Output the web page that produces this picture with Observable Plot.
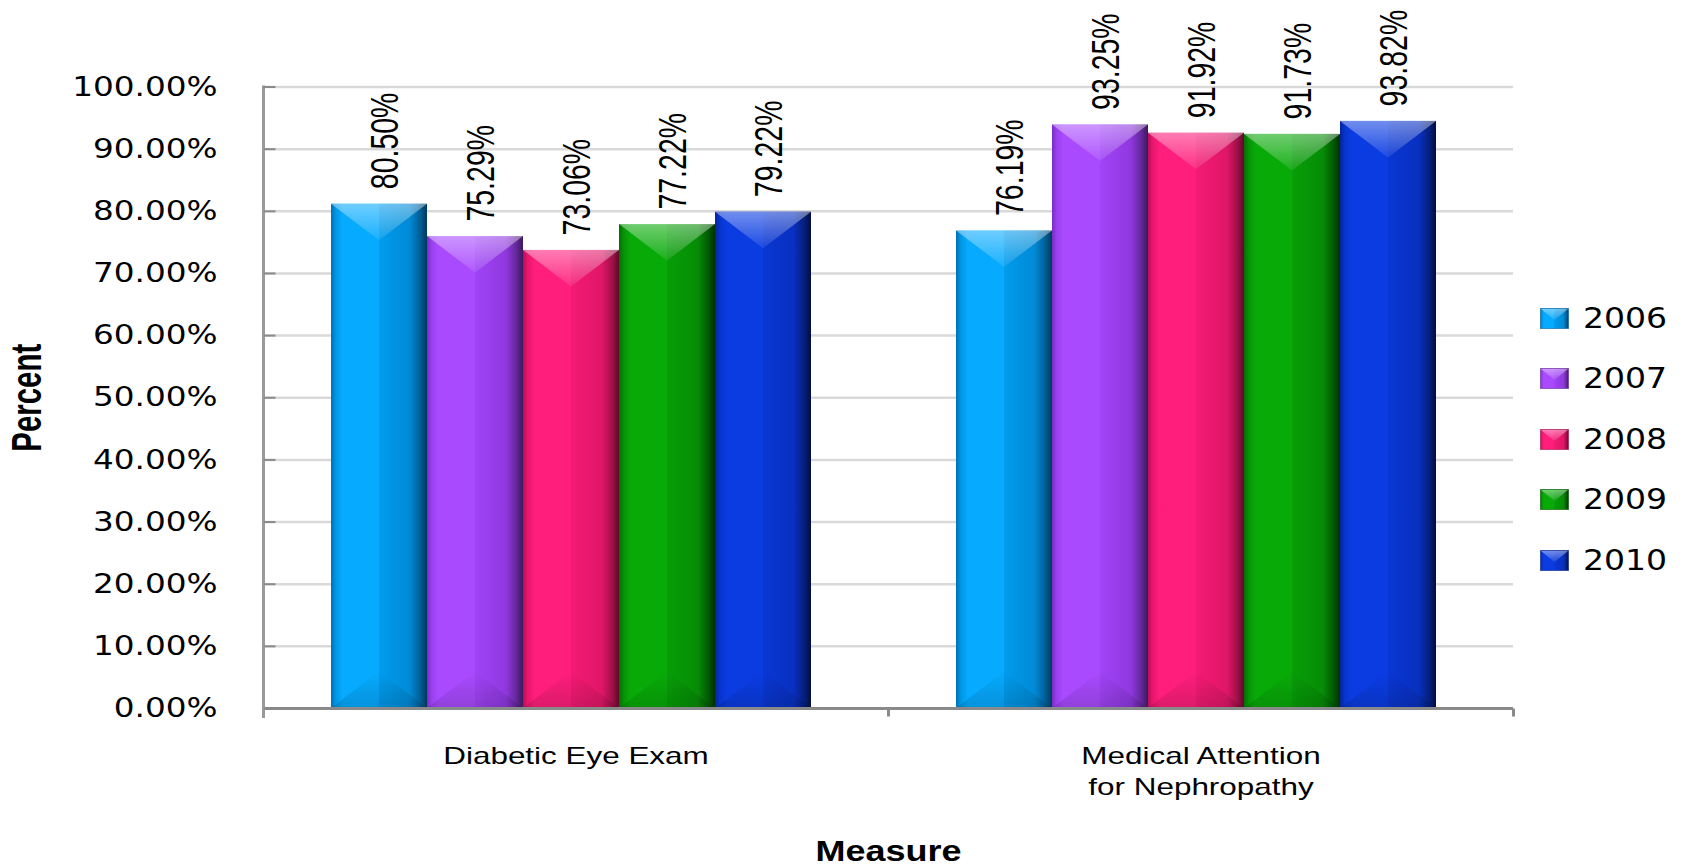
<!DOCTYPE html>
<html><head><meta charset="utf-8">
<script src="https://cdn.jsdelivr.net/npm/d3@7"></script>
<script src="https://cdn.jsdelivr.net/npm/@observablehq/plot@0.6"></script>
<style>
html,body{margin:0;padding:0;background:#fff;}
#wrap{position:relative;width:1688px;height:867px;overflow:hidden;background:#fff;}
#legend{position:absolute;left:1540px;top:288px;font-family:"DejaVu Sans";font-size:29px;color:#000;}
.item{height:60.5px;display:flex;align-items:center;}
.item svg{flex:none;display:block;}
.item span{display:inline-block;margin-left:14px;transform:scaleX(1.14);transform-origin:left center;line-height:1;}
</style></head><body>
<div id="wrap"><svg id="defs" width="0" height="0" style="position:absolute;left:0;top:0"><defs></defs></svg><div id="chart"></div><div id="legend"></div></div>
<script>
// ---- data ----
const categories = ["Diabetic Eye Exam", "Medical Attention for Nephropathy"];
const categoryLabels = ["Diabetic Eye Exam", "Medical Attention\nfor Nephropathy"];
const years = ["2006", "2007", "2008", "2009", "2010"];
const diabeticEyeExam = [80.50, 75.29, 73.06, 77.22, 79.22];
const nephropathy = [76.19, 93.25, 91.92, 91.73, 93.82];
const yTicks = [0, 10, 20, 30, 40, 50, 60, 70, 80, 90, 100];

// ---- styles ----
const shadeOffsets = [0, 0.05, 0.12, 0.5, 0.5, 0.82, 0.93, 1];
const shades = {
  "2006": ["#0070b0","#0096e4","#06aaff","#06aaff","#009cee","#008ad6","#005e96","#00385a"],
  "2007": ["#7a2cc4","#9a40f0","#a94aff","#a94aff","#a044f6","#9038e0","#64289a","#3c185c"],
  "2008": ["#b80e56","#e8166c","#ff1e7c","#ff1e7c","#f41a74","#e01668","#a01048","#5c0a2a"],
  "2009": ["#036e03","#069406","#08aa08","#08aa08","#079e07","#068c06","#035a03","#013001"],
  "2010": ["#05249a","#0834cc","#0a3ce2","#0a3ce2","#0937d4","#0830c0","#061f7c","#020e40"]
};

const table = [];
years.forEach((y, i) => table.push({category: categories[0], year: y, value: diabeticEyeExam[i]}));
years.forEach((y, i) => table.push({category: categories[1], year: y, value: nephropathy[i]}));

// gradients
const ns = "http://www.w3.org/2000/svg";
const defs = document.querySelector("#defs defs");
for (const y of years) {
  const g = document.createElementNS(ns, "linearGradient");
  g.setAttribute("id", "g" + y);
  g.setAttribute("x1", "0"); g.setAttribute("x2", "1"); g.setAttribute("y1", "0"); g.setAttribute("y2", "0");
  shades[y].forEach((c, k) => {
    const s = document.createElementNS(ns, "stop");
    s.setAttribute("offset", shadeOffsets[k]); s.setAttribute("stop-color", c);
    g.appendChild(s);
  });
  defs.appendChild(g);
}
function vgrad(id, color, o1, o2) {
  const g = document.createElementNS(ns, "linearGradient");
  g.setAttribute("id", id);
  g.setAttribute("x1", "0"); g.setAttribute("x2", "0"); g.setAttribute("y1", "0"); g.setAttribute("y2", "1");
  [[0, o1], [1, o2]].forEach(([off, op]) => {
    const s = document.createElementNS(ns, "stop");
    s.setAttribute("offset", off); s.setAttribute("stop-color", color); s.setAttribute("stop-opacity", op);
    g.appendChild(s);
  });
  defs.appendChild(g);
}
vgrad("topHi", "#ffffff", 0.42, 0.08);
vgrad("botSh", "#000000", 0.0, 0.14);

function bevel(index, scales, values, dimensions, context, next) {
  const g = next(index, scales, values, dimensions, context);
  const rects = Array.from(g.querySelectorAll("rect"));
  for (const r of rects) {
    const x = +r.getAttribute("x"), y = +r.getAttribute("y"), w = +r.getAttribute("width"), h = +r.getAttribute("height");
    const d = Math.min(w * 0.38, h / 2);
    const top = document.createElementNS(ns, "path");
    top.setAttribute("d", `M${x},${y}L${x + w},${y}L${x + w / 2},${y + d}Z`);
    top.setAttribute("fill", "url(#topHi)");
    const bot = document.createElementNS(ns, "path");
    bot.setAttribute("d", `M${x},${y + h}L${x + w},${y + h}L${x + w / 2},${y + h - d}Z`);
    bot.setAttribute("fill", "url(#botSh)");
    r.after(top);
    top.after(bot);
  }
  return g;
}

const hStub = {draw(ctx, size) { const r = Math.sqrt(size / Math.PI); ctx.moveTo(0, 0); ctx.lineTo(r, 0); }};
const vStub = {draw(ctx, size) { const r = Math.sqrt(size / Math.PI); ctx.moveTo(0, 0); ctx.lineTo(0, r); }};

const chart = Plot.plot({
  width: 1688, height: 867,
  marginLeft: 263, marginRight: 175, marginTop: 86.5, marginBottom: 159,
  style: {background: "white", color: "black"},
  fx: {domain: categories, paddingInner: 0, paddingOuter: 0, label: null},
  x: {domain: years, paddingInner: 0, paddingOuter: 0.755, align: 0.47, axis: null},
  y: {domain: [0, 100]},
  color: {domain: years, range: years.map(y => `url(#g${y})`)},
  marks: [
    Plot.gridY({ticks: yTicks, stroke: "#d9d9d9", strokeOpacity: 1, strokeWidth: 2.5}),
    Plot.barY(table, {fx: "category", x: "year", y: "value", fill: "year", insetTop: -4, render: bevel}),
    Plot.ruleY([0], {stroke: "#8a8a8a", strokeWidth: 3}),
    Plot.frame({anchor: "left", facetAnchor: "left", stroke: "#9a9a9a", strokeWidth: 3, insetBottom: -8}),
    Plot.dot(yTicks, {y: d => d, fx: () => categories[0], frameAnchor: "left", symbol: hStub, r: 12, stroke: "#8a8a8a", strokeWidth: 2, fill: "none"}),
    Plot.dot([0], {frameAnchor: "bottom-right", symbol: vStub, r: 8, stroke: "#8a8a8a", strokeWidth: 3, fill: "none"}),
    Plot.text(table, {fx: "category", x: "year", y: "value", text: d => d.value.toFixed(2) + "%", rotate: -90, textAnchor: "start", dy: -19, dx: 6, fontSize: 38, fontFamily: "Liberation Sans", fill: "#000"}),
    Plot.axisY({ticks: yTicks, tickFormat: d => d.toFixed(2) + "%", tickSize: 0, tickPadding: 46, fontSize: 27, fontFamily: "DejaVu Sans", label: null}),
    Plot.axisY({ticks: [], label: "Percent", labelAnchor: "center", labelArrow: "none", labelOffset: 252, fontSize: 42, fontWeight: "bold", fontFamily: "Liberation Sans"}),
    Plot.axisFx({anchor: "bottom", tickSize: 0, tickPadding: 34, tickFormat: d => categoryLabels[categories.indexOf(d)], fontSize: 24, lineHeight: 1.27, fontFamily: "Liberation Sans", label: null}),
    Plot.axisFx({anchor: "bottom", ticks: [], label: "Measure", labelAnchor: "center", labelArrow: "none", labelOffset: 152, fontSize: 30, fontWeight: "bold", fontFamily: "Liberation Sans"})
  ]
});
document.getElementById("chart").appendChild(chart);

// horizontal stretch / compression of text to match the original's proportions
function stretch(sel, k) {
  chart.querySelectorAll(sel).forEach(t => {
    const tr = t.getAttribute("transform") || "";
    t.setAttribute("transform", tr + ` scale(${k},1)`);
  });
}
stretch('g[aria-label="y-axis tick label"] text', 1.21);
stretch('g[aria-label="fx-axis tick label"] text', 1.31);
stretch('g[aria-label="text"] text', 0.75);
stretch('g[aria-label="y-axis label"] text', 0.7);
stretch('g[aria-label="fx-axis label"] text', 1.2);

// legend
const legend = document.getElementById("legend");
for (const y of years) {
  const item = document.createElement("div");
  item.className = "item";
  item.innerHTML = `<svg width="29" height="21"><rect x="0.5" y="0.5" width="28" height="20" fill="url(#g${y})" stroke="${shades[y][6]}" stroke-opacity="0.6"/><path d="M1,1L28,1L14.5,12Z" fill="url(#topHi)"/></svg><span>${y}</span>`;
  legend.appendChild(item);
}
</script>
</body></html>
